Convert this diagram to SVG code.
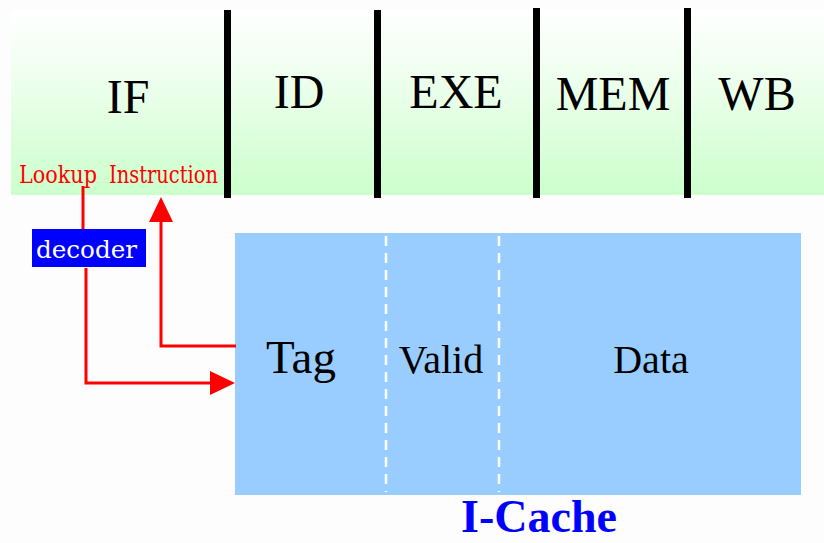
<svg xmlns="http://www.w3.org/2000/svg" width="824" height="543" viewBox="0 0 824 543">
<style>
.stage{font-family:"Liberation Serif","Times New Roman",serif;font-size:48px;fill:#000;text-anchor:middle}
.bar{fill:#000}
.red{font-family:"DejaVu Serif","Liberation Serif",serif;font-size:24px;fill:#ff0000}
.field{font-family:"Liberation Serif","Times New Roman",serif;fill:#000;text-anchor:middle}
.conn{fill:none;stroke:#ff0000;stroke-width:3}
.dash{stroke:#ffffff;stroke-width:2.5;stroke-dasharray:10 7}
</style>
<defs>
<linearGradient id="g" x1="0" y1="0" x2="0" y2="1">
<stop offset="0" stop-color="#ffffff"/>
<stop offset="0.25" stop-color="#f4fff4"/>
<stop offset="1" stop-color="#ccffcc"/>
</linearGradient>
<marker id="ah" markerUnits="userSpaceOnUse" markerWidth="26" markerHeight="24" refX="0" refY="12" orient="auto">
<path d="M0,0 L25,12 L0,24 z" fill="#ff0000"/>
</marker>
</defs>
<rect width="824" height="543" fill="#fdfdfd"/>
<g id="pipeline">
<rect x="11" y="10" width="813" height="185" fill="url(#g)"/>
<rect class="bar" x="224" y="10" width="7" height="188"/>
<rect class="bar" x="374" y="10" width="7" height="188"/>
<rect class="bar" x="533" y="8" width="7" height="190"/>
<rect class="bar" x="684" y="8" width="7" height="190"/>
</g>
<g id="IF"><text class="stage" x="128" y="113">IF</text></g>
<g id="ID"><text class="stage" x="299" y="108">ID</text></g>
<g id="EXE"><text class="stage" x="456" y="108">EXE</text></g>
<g id="MEM"><text class="stage" x="613" y="110">MEM</text></g>
<g id="WB"><text class="stage" x="757" y="110">WB</text></g>
<g id="lookup"><text class="red" x="19" y="183" textLength="78" lengthAdjust="spacingAndGlyphs">Lookup</text></g>
<g id="instruction"><text class="red" x="109" y="183" textLength="109" lengthAdjust="spacingAndGlyphs">Instruction</text></g>
<g id="decoder">
<rect x="32" y="229" width="114" height="38" fill="#0000ff"/>
<text x="36" y="258" font-family="DejaVu Serif, Liberation Serif, serif" font-size="24" fill="#ffffff" textLength="101" lengthAdjust="spacingAndGlyphs">decoder</text>
</g>
<g id="icache">
<rect x="235" y="233" width="566" height="262" fill="#99ccff"/>
<line class="dash" x1="386" y1="236" x2="386" y2="492"/>
<line class="dash" x1="499" y1="236" x2="499" y2="492"/>
<text class="field" x="301" y="373" font-size="47">Tag</text>
<text class="field" x="441" y="373" font-size="40">Valid</text>
<text class="field" x="651" y="373" font-size="40">Data</text>
<text x="539" y="532" font-family="Liberation Serif, Times New Roman, serif" font-size="46" font-weight="bold" fill="#0000ff" text-anchor="middle">I-Cache</text>
</g>
<g id="connectors">
<path class="conn" d="M83,186 V229"/>
<path class="conn" d="M86,268 V383 H210" marker-end="url(#ah)"/>
<path class="conn" d="M236,346 H161 V222" marker-end="url(#ah)"/>
</g>
</svg>
